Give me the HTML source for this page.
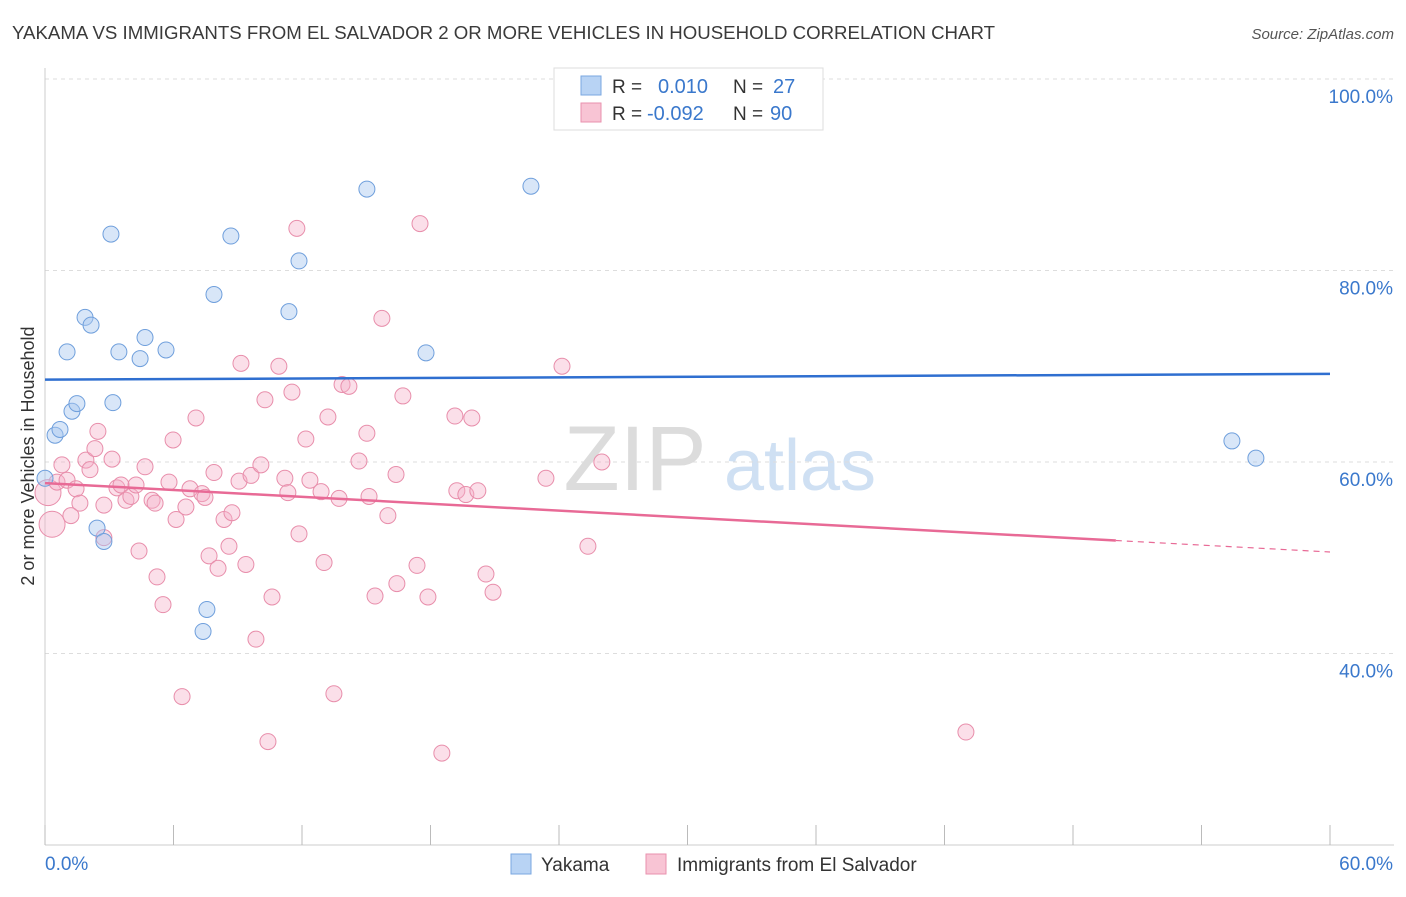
<!DOCTYPE html>
<html><head><meta charset="utf-8"><style>
body{margin:0;background:#fff;font-family:"Liberation Sans",sans-serif}
svg text{font-family:"Liberation Sans",sans-serif}
</style></head><body>
<svg id="chart" width="1406" height="892" viewBox="0 0 1406 892" xmlns="http://www.w3.org/2000/svg">
<text x="12" y="39" font-size="18" fill="#3a3a3a" textLength="983" lengthAdjust="spacingAndGlyphs">YAKAMA VS IMMIGRANTS FROM EL SALVADOR 2 OR MORE VEHICLES IN HOUSEHOLD CORRELATION CHART</text>
<text x="1394" y="39" font-size="15" fill="#555" text-anchor="end" font-style="italic">Source: ZipAtlas.com</text>
<g>
<text x="635" y="490" font-size="92" fill="#dcdcdc" font-family="Liberation Serif" text-anchor="middle">ZIP</text>
<text x="800" y="490" font-size="72" fill="#cfe0f3" text-anchor="middle">atlas</text>
</g>
<g id="grid"></g>
<g id="axes"></g>
<g id="marks"></g>
<text transform="translate(34,456) rotate(-90)" font-size="18" fill="#333" text-anchor="middle">2 or more Vehicles in Household</text>
<g>
<rect x="554" y="68" width="269" height="62" fill="#fff" stroke="#ddd"/>
<rect x="581" y="76" width="20" height="19" fill="#b8d3f4" stroke="#7aa7e0"/>
<rect x="581" y="103" width="20" height="19" fill="#f8c4d4" stroke="#e991ae"/>
<text x="612" y="93" font-size="19" fill="#333">R =</text>
<text x="658" y="93" font-size="20" fill="#3a78cc">0.010</text>
<text x="733" y="93" font-size="19" fill="#333">N =</text>
<text x="773" y="93" font-size="20" fill="#3a78cc">27</text>
<text x="612" y="120" font-size="19" fill="#333">R =</text>
<text x="647" y="120" font-size="20" fill="#3a78cc">-0.092</text>
<text x="733" y="120" font-size="19" fill="#333">N =</text>
<text x="770" y="120" font-size="20" fill="#3a78cc">90</text>
</g>
<g>
<rect x="511" y="854" width="20" height="20" fill="#b8d3f4" stroke="#7aa7e0"/>
<text x="541" y="871" font-size="19" fill="#333">Yakama</text>
<rect x="646" y="854" width="20" height="20" fill="#f8c4d4" stroke="#e991ae"/>
<text x="677" y="871" font-size="19" fill="#333">Immigrants from El Salvador</text>
</g>
</svg>
<script>
const yakamaX=[0.0,0.47,0.70,1.03,1.26,1.49,1.87,2.15,2.43,2.75,3.08,3.17,3.45,4.44,4.67,5.65,7.38,7.56,7.89,8.68,11.39,11.86,15.03,17.79,22.69,55.42,56.54];
const yakamaY=[58.3,62.8,63.4,71.5,65.3,66.1,75.1,74.3,53.1,51.7,83.8,66.2,71.5,70.8,73.0,71.7,42.3,44.6,77.5,83.6,75.7,81.0,88.5,71.4,88.8,62.2,60.4];
const salvX=[0.14,0.33,0.56,0.79,1.03,1.21,1.45,1.63,1.91,2.10,2.33,2.47,2.75,2.75,3.13,3.36,3.55,3.78,4.01,4.25,4.39,4.67,5.00,5.14,5.23,5.51,5.79,5.98,6.12,6.40,6.58,6.77,7.05,7.33,7.47,7.66,7.89,8.08,8.36,8.59,8.73,9.06,9.15,9.38,9.62,9.85,10.08,10.27,10.41,10.60,10.92,11.20,11.34,11.53,11.76,11.86,12.18,12.37,12.89,13.03,13.21,13.49,13.73,13.87,14.19,14.66,15.03,15.13,15.41,15.73,16.01,16.39,16.43,16.71,17.37,17.51,17.88,18.53,19.14,19.23,19.65,19.93,20.21,20.59,20.92,23.39,24.14,25.35,26.00,43.00];
const salvY=[56.8,53.5,57.9,59.7,58.1,54.4,57.2,55.7,60.2,59.2,61.4,63.2,52.1,55.5,60.3,57.3,57.6,56.0,56.4,57.6,50.7,59.5,56.0,55.7,48.0,45.1,57.9,62.3,54.0,35.5,55.3,57.2,64.6,56.7,56.3,50.2,58.9,48.9,54.0,51.2,54.7,58.0,70.3,49.3,58.6,41.5,59.7,66.5,30.8,45.9,70.0,58.3,56.8,67.3,84.4,52.5,62.4,58.1,56.9,49.5,64.7,35.8,56.2,68.1,67.9,60.1,63.0,56.4,46.0,75.0,54.4,58.7,47.3,66.9,49.2,84.9,45.9,29.6,64.8,57.0,56.6,64.6,57.0,48.3,46.4,58.3,70.0,51.2,60.0,31.8];
const yakamaTrend=[68.6,69.2];
const salvTrend=[57.8,50.6];
const yTicks=[40,60,80,100];
const yTickLabels=["40.0%","60.0%","80.0%","100.0%"];
const xTicks=[0,6,12,18,24,30,36,42,48,54,60];
const NS="http://www.w3.org/2000/svg";
const sx=v=>45+v*(1285/60);
const sy=v=>845-(v-20)*(191.5/20);
function mk(tag,attrs,parent){const e=document.createElementNS(NS,tag);for(const k in attrs)e.setAttribute(k,attrs[k]);parent.appendChild(e);return e;}
const grid=document.getElementById('grid'),axes=document.getElementById('axes'),marks=document.getElementById('marks');
yTicks.forEach((t,i)=>{
 const l=mk('line',{x1:45,x2:1394,y1:sy(t),y2:sy(t),stroke:'#ddd','stroke-dasharray':'4,4'},grid);
 
 
 const tx=mk('text',{x:1393,y:sy(t)+24,'font-size':19,fill:'#3a78cc','text-anchor':'end'},axes);
 tx.textContent=yTickLabels[i];
 
 
});
mk('line',{x1:45,x2:45,y1:68,y2:845,stroke:'#ccc'},axes);
mk('line',{x1:45,x2:1394,y1:845,y2:845,stroke:'#ccc'},axes);
xTicks.forEach(t=>{
 const l=mk('line',{x1:sx(t),x2:sx(t),y1:825,y2:845,stroke:'#bbb'},axes);
 
 
});
const x0=mk('text',{x:45,y:870,'font-size':19,fill:'#3a78cc'},axes);x0.textContent="0.0%";


const x1=mk('text',{x:1393,y:870,'font-size':19,fill:'#3a78cc','text-anchor':'end'},axes);x1.textContent="60.0%";


salvX.forEach((v,i)=>{
 const r=(i<2)?13:8;
 const c=mk('circle',{cx:sx(v),cy:sy(salvY[i]),r:r,fill:'rgba(246,176,200,0.4)',stroke:'#e88eab','stroke-width':1},marks);
 
 
});
yakamaX.forEach((v,i)=>{
 const c=mk('circle',{cx:sx(v),cy:sy(yakamaY[i]),r:8,fill:'rgba(169,200,240,0.45)',stroke:'#6f9fdc','stroke-width':1},marks);
 
 
});
const bt=mk('line',{x1:sx(0),y1:sy(yakamaTrend[0]),x2:sx(60),y2:sy(yakamaTrend[1]),stroke:'#2f6fd0','stroke-width':2.5},marks);


const pAt=x=>salvTrend[0]+(salvTrend[1]-salvTrend[0])*x/60;
const pt=mk('line',{x1:sx(0),y1:sy(pAt(0)),x2:sx(50),y2:sy(pAt(50)),stroke:'#e86a96','stroke-width':2.5},marks);


const pd=mk('line',{x1:sx(50),y1:sy(pAt(50)),x2:sx(60),y2:sy(pAt(60)),stroke:'#e86a96','stroke-width':1.2,'stroke-dasharray':'6,5'},marks);


</script>
</body></html>
